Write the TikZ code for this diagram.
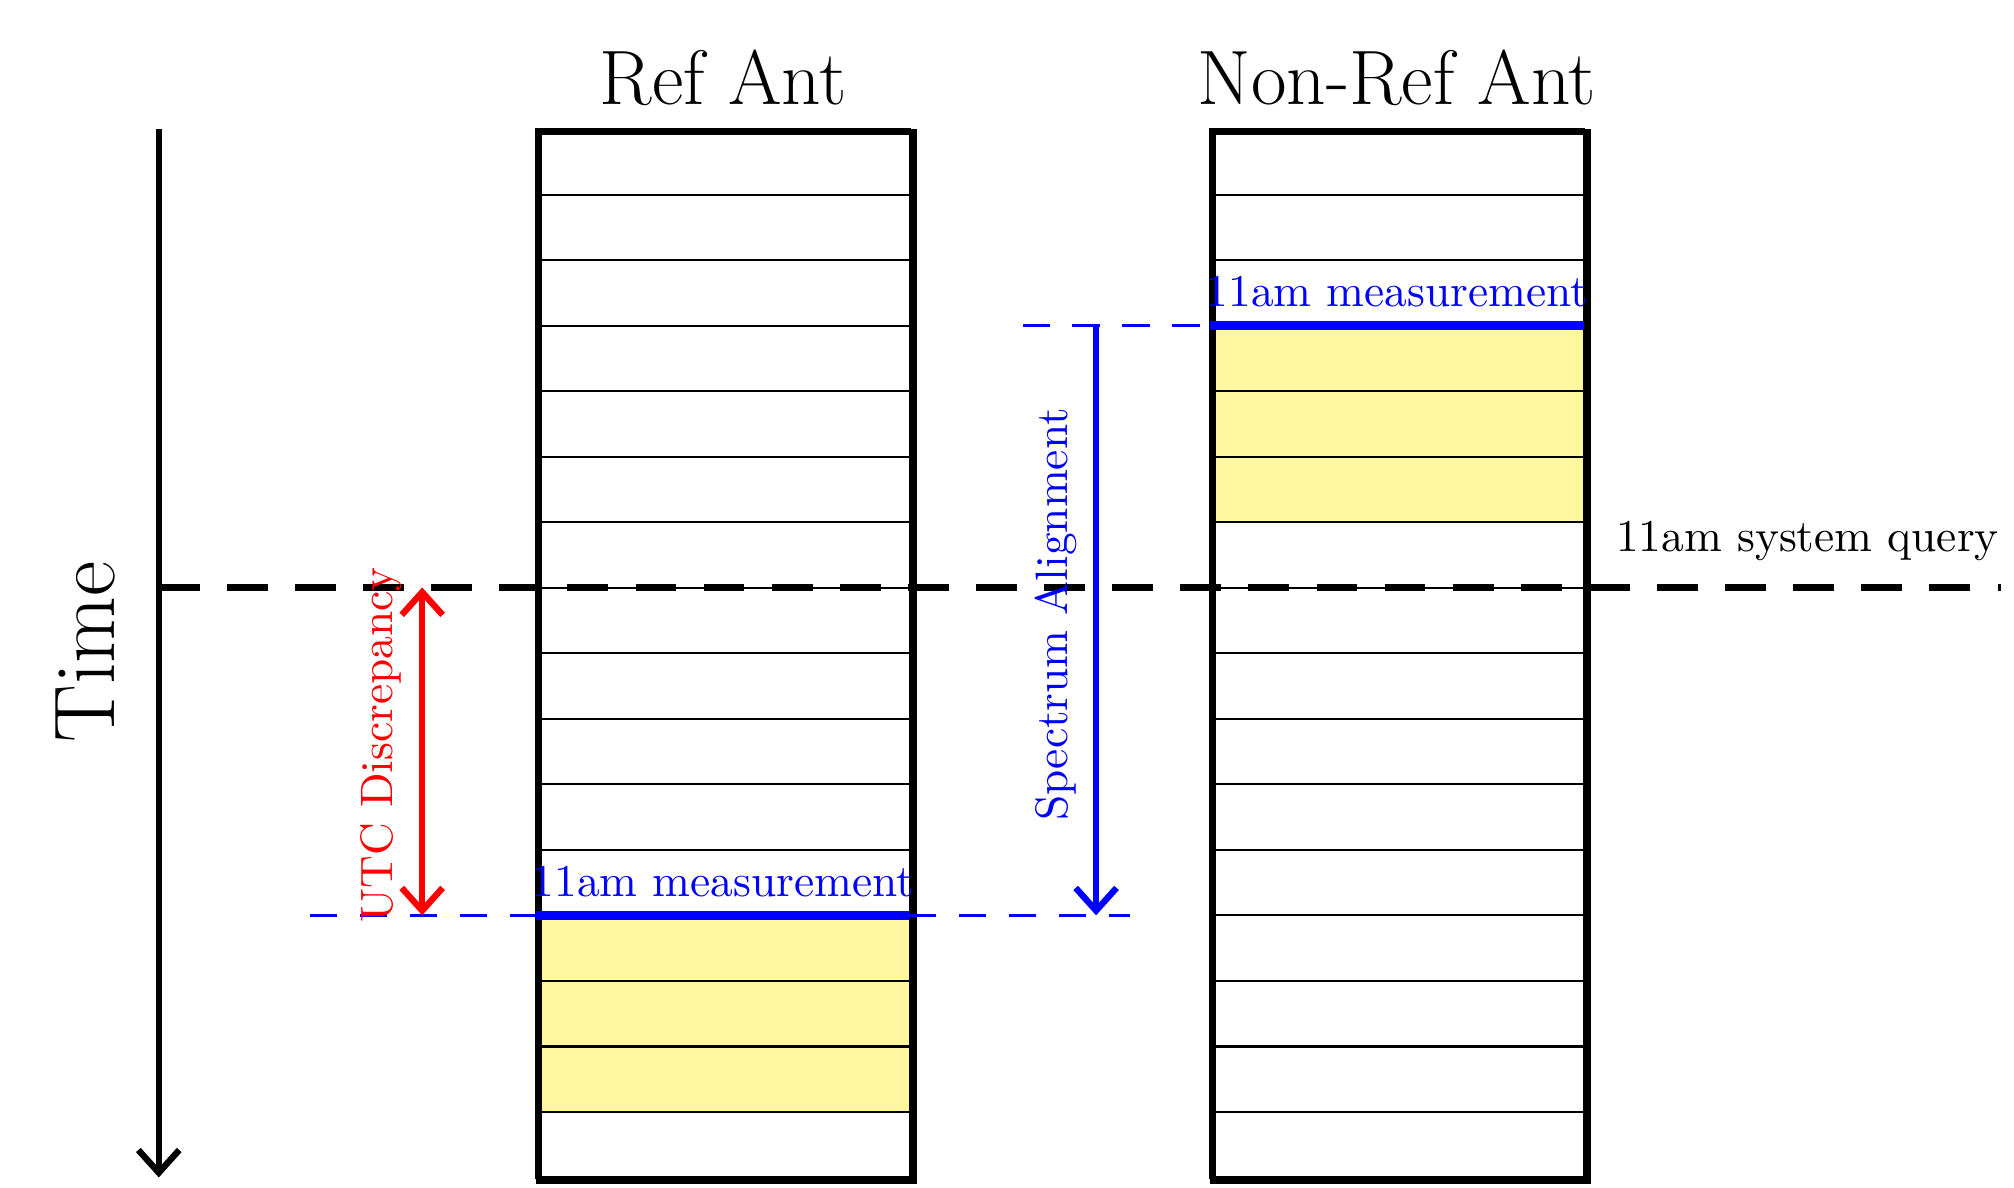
\documentclass[tikz,border=0pt]{standalone}
\usetikzlibrary{arrows.meta}
\definecolor{cellyellow}{RGB}{255,247,160}
\begin{document}
\begin{tikzpicture}[x=0.01cm,y=-0.01cm,
  cell/.style={draw=black,line width=0.5pt},
  box/.style={draw=black,line width=1.4pt},
  meas/.style={blue,line width=2pt},
  bdash/.style={blue,dashed,dash pattern=on 6pt off 5pt,line width=0.6pt},
  lbl/.style={font=\fontsize{10}{12}\selectfont}]
\useasboundingbox (0,0) rectangle (1560,920);
% cells
\foreach \bx in {415,937}{
  \foreach \i in {0,...,15}{
    \pgfmathsetmacro{\ya}{100+\i*50.75}
    \pgfmathsetmacro{\yb}{100+(\i+1)*50.75}
    \draw[cell] (\bx,\ya) rectangle (\bx+290,\yb);
  }
}
\foreach \i in {12,13,14}{
  \pgfmathsetmacro{\ya}{100+\i*50.75}
  \pgfmathsetmacro{\yb}{100+(\i+1)*50.75}
  \fill[cellyellow] (415,\ya) rectangle (705,\yb);
  \draw[cell] (415,\ya) rectangle (705,\yb);
}
\foreach \i in {3,4,5}{
  \pgfmathsetmacro{\ya}{100+\i*50.75}
  \pgfmathsetmacro{\yb}{100+(\i+1)*50.75}
  \fill[cellyellow] (937,\ya) rectangle (1227,\yb);
  \draw[cell] (937,\ya) rectangle (1227,\yb);
}
\node[box,minimum width=2.9cm,minimum height=8.12cm,inner sep=0pt,anchor=north west] (ref) at (415,100) {};
\node[box,minimum width=2.9cm,minimum height=8.12cm,inner sep=0pt,anchor=north west] (nonref) at (937,100) {};
\node[font=\fontsize{17}{20}\selectfont] (reft) at (560,60) {Ref Ant};
\node[font=\fontsize{17}{20}\selectfont] (nonreft) at (1082,60) {Non-Ref Ant};
% time axis
\coordinate (ta) at (123,100);
\coordinate (tb) at (123,912);
\draw[line width=1.4pt,-{Straight Barb[length=5pt,width=9pt]}] (ta) -- (tb);
\node[rotate=90,font=\fontsize{19}{22}\selectfont] (time) at (66,505) {Time};
% system query
\coordinate (qa) at (123,455);
\coordinate (qb) at (1550,455);
\draw[line width=1.4pt,dashed,dash pattern=on 9pt off 6pt] (qa) -- (qb);
\node[lbl,anchor=south] (query) at (1400,447) {11am system query};
% measurements
\coordinate (m1a) at (415,709); \coordinate (m1b) at (705,709);
\coordinate (m2a) at (937,252); \coordinate (m2b) at (1227,252);
\draw[bdash] (240,709) -- (875,709);
\draw[bdash] (792,252) -- (m2a);
\draw[meas] (m1a) -- (m1b);
\draw[meas] (m2a) -- (m2b);
\node[lbl,blue,anchor=south] (ml1) at (560,707) {11am measurement};
\node[lbl,blue,anchor=south] (ml2) at (1082,250) {11am measurement};
% spectrum alignment
\coordinate (sa) at (849,252); \coordinate (sb) at (849,709);
\draw[blue,line width=1.4pt,-{Straight Barb[length=5pt,width=9pt]}] (sa) -- (sb);
\node[lbl,blue,rotate=90] (sal) at (818,476) {Spectrum Alignment};
% UTC discrepancy
\coordinate (ua) at (327,455); \coordinate (ub) at (327,709);
\draw[red,line width=1.4pt,{Straight Barb[length=5pt,width=9pt]}-{Straight Barb[length=5pt,width=9pt]}] (ua) -- (ub);
\node[lbl,red,rotate=90] (utc) at (295,577) {UTC Discrepancy};
\end{tikzpicture}
\end{document}
